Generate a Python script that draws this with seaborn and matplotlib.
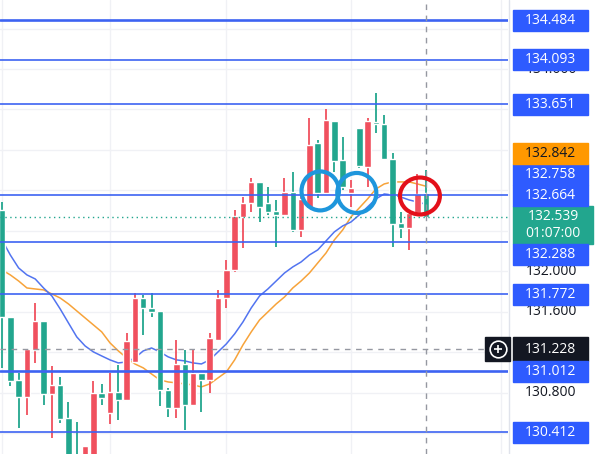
import matplotlib
matplotlib.use("Agg")
import matplotlib.pyplot as plt
from matplotlib.patches import Rectangle, Ellipse
import numpy as np
import pandas as pd
import seaborn as sns

# candles (red = rising, green = falling, as on the reference)
opens = [132.607, 131.550, 130.927, 130.759, 131.224, 131.510, 130.789, 130.878, 130.552, 130.150,
         130.000, 130.100, 130.799, 130.601, 130.809, 130.730, 131.105, 131.737, 131.639, 131.609,
         130.828, 130.650, 131.085, 130.680, 130.996, 130.927, 131.322, 131.737, 132.014, 132.538,
         132.676, 132.884, 132.676, 132.597, 132.558, 132.785, 132.409, 132.627, 133.269, 132.775,
         133.486, 133.101, 132.775, 133.417, 133.032, 133.477, 133.457, 133.111, 132.479, 132.429,
         132.577, 132.775]
highs = [132.686, 131.550, 130.996, 131.234, 131.688, 131.510, 131.066, 130.957, 130.710, 130.512,
         130.275, 130.917, 130.888, 130.996, 131.075, 131.392, 131.787, 131.767, 131.787, 131.609,
         130.850, 131.322, 131.224, 131.224, 130.996, 131.392, 131.817, 132.113, 132.607, 132.735,
         132.923, 132.884, 132.834, 132.706, 132.923, 132.982, 132.755, 133.516, 133.299, 133.605,
         133.486, 133.328, 132.903, 133.417, 133.516, 133.763, 133.546, 133.170, 132.587, 132.577,
         132.963, 133.002]
lows = [131.046, 130.868, 130.453, 130.581, 131.095, 130.680, 130.354, 130.502, 130.050, 129.900,
        129.950, 130.050, 130.680, 130.492, 130.532, 130.730, 131.105, 131.372, 131.550, 130.671,
        130.562, 130.552, 130.433, 130.680, 130.611, 130.799, 131.322, 131.639, 131.994, 132.232,
        132.587, 132.489, 132.558, 132.241, 132.558, 132.390, 132.340, 132.627, 132.726, 132.775,
        132.982, 132.805, 132.637, 133.022, 132.834, 133.368, 133.111, 132.241, 132.330, 132.212,
        132.577, 132.539]
closes = [131.550, 130.917, 130.759, 131.234, 131.510, 130.789, 130.878, 130.542, 130.100, 129.950,
          130.275, 130.799, 130.749, 130.809, 130.730, 131.313, 131.737, 131.639, 131.599, 130.828,
          130.650, 131.085, 130.680, 130.996, 130.927, 131.342, 131.737, 132.014, 132.548, 132.676,
          132.884, 132.637, 132.587, 132.558, 132.785, 132.409, 132.716, 133.249, 132.775, 133.496,
          133.091, 132.834, 132.824, 133.042, 133.486, 133.457, 133.111, 132.469, 132.429, 132.577,
          132.765, 132.539]

ma_fast = [132.311, 132.162, 132.034, 131.965, 131.925, 131.836, 131.757, 131.629, 131.490, 131.352,
           131.263, 131.204, 131.164, 131.125, 131.095, 131.105, 131.145, 131.214, 131.243, 131.204,
           131.155, 131.125, 131.115, 131.095, 131.085, 131.125, 131.204, 131.283, 131.382, 131.500,
           131.639, 131.757, 131.826, 131.905, 131.984, 132.044, 132.093, 132.162, 132.212, 132.301,
           132.390, 132.449, 132.488, 132.558, 132.637, 132.716, 132.765, 132.755, 132.735, 132.706,
           132.686, 132.664]
ma_slow = [132.014, 131.965, 131.905, 131.836, 131.826, 131.817, 131.777, 131.737, 131.678, 131.609,
           131.540, 131.471, 131.402, 131.293, 131.214, 131.145, 131.085, 131.046, 130.986, 130.927,
           130.907, 130.898, 130.888, 130.878, 130.858, 130.888, 130.947, 131.006, 131.125, 131.273,
           131.402, 131.520, 131.599, 131.678, 131.747, 131.836, 131.905, 131.984, 132.083, 132.182,
           132.311, 132.409, 132.538, 132.627, 132.716, 132.814, 132.864, 132.884, 132.884, 132.884,
           132.864, 132.842]

levels = [134.484, 134.093, 133.651, 132.758, 132.288, 131.772, 131.012, 130.412]
thick_levels = [134.484, 131.012]
price_ticks = [130.4, 130.8, 131.2, 131.6, 132.0, 132.4, 132.8, 133.2, 133.6, 134.0, 134.4]
time_grid = [0, 13, 27, 42, 60]
crosshair_price = 131.228
crosshair_bar = 51
countdown = "01:07:00"
# hand drawn circles: (bar, price, width in bars, height in price, colour)
circles = [(38.3, 132.795, 4.5, 0.385, "#1E96DC"),
           (42.7, 132.775, 4.7, 0.395, "#1E96DC"),
           (50.3, 132.745, 4.8, 0.365, "#E3101A")]

UP = "#F0505E"
DOWN = "#22A68E"
BLUE = "#2E5BFF"
LINE = "#3D63F2"


def main():
    sns.set_style("white")
    plt.rcParams['font.family'] = ['Open Sans', 'DejaVu Sans']

    y_lo, y_hi = 130.195, 134.682
    ppu = 454 / (y_hi - y_lo)

    fig = plt.figure(figsize=(6, 4.54), dpi=100)
    ax = fig.add_axes([0, 0, 508 / 600, 1])
    rax = fig.add_axes([508 / 600, 0, 92 / 600, 1])

    bars = np.arange(len(closes))
    o, h, l, c = map(np.array, (opens, highs, lows, closes))
    colors = np.where(c > o, UP, DOWN)

    for t in price_ticks:
        ax.axhline(t, color="#F0F1F5", lw=1, zorder=0)
    for b in time_grid:
        ax.axvline(b, color="#F0F1F5", lw=1, zorder=0)

    df = pd.DataFrame({'bar': bars, 'fast': ma_fast, 'slow': ma_slow})
    sns.lineplot(data=df, x='bar', y='slow', color="#F7A33A", lw=1.1, ax=ax, zorder=2)
    sns.lineplot(data=df, x='bar', y='fast', color="#5274F0", lw=1.1, ax=ax, zorder=2)

    ax.vlines(bars, l, h, colors=colors, lw=1.3, zorder=3)
    ax.bar(bars, np.maximum(np.abs(c - o), 0.01), bottom=np.minimum(o, c), width=0.78,
           color=colors, zorder=3)

    for lv in levels:
        ax.axhline(lv, color=LINE, lw=1.9 if lv in thick_levels else 1.2, zorder=4)
    ax.axhline(closes[-1], color=DOWN, lw=1, ls=(0, (1, 2.5)), zorder=4)
    ax.axhline(crosshair_price, color="#9598A1", lw=1, ls=(0, (4, 4)), zorder=4)
    ax.axvline(crosshair_bar, color="#9598A1", lw=1, ls=(0, (4, 4)), zorder=4)

    for bx, py, w, hgt, col in circles:
        ax.add_patch(Ellipse((bx, py), w, hgt, fill=False, edgecolor=col, lw=3, zorder=5))

    ax.set_xlim(-0.24, 60.9)
    ax.set_ylim(y_lo, y_hi)
    ax.set_xlabel('')
    ax.set_ylabel('')
    ax.set_xticks([])
    ax.set_yticks([])
    for s in ax.spines.values():
        s.set_visible(False)

    # price scale
    rax.set_xlim(0, 92)
    rax.set_ylim(y_lo, y_hi)
    rax.set_axis_off()
    rax.axvline(1, color="#E0E3EB", lw=1)

    centers = []

    def box(y, half, text, bg, fg, w=75):
        centers.append(y)
        rax.add_patch(Rectangle((5, y - half), w, 2 * half, color=bg, zorder=2, clip_on=False))
        rax.text(5 + w / 2, y, text, color=fg, fontsize=10, ha='center', va='center', zorder=3)

    cur = closes[-1]
    g_top = cur + 11 / ppu
    g_bot = cur - 27 / ppu
    centers.append(cur)
    centers.append(cur - 17 / ppu)
    rax.add_patch(Rectangle((5, g_bot), 80, g_top - g_bot, color=DOWN, zorder=2))
    rax.text(45, cur, f"{cur:.3f}", color="white", fontsize=10, ha='center', va='center', zorder=3)
    rax.text(45, cur - 17 / ppu, countdown, color="white", fontsize=10, ha='center', va='center', zorder=3)

    labels = [(lv, BLUE, "white", 10.5) for lv in levels]
    labels.append((ma_slow[-1], "#FF9800", "#131722", 10.5))
    labels.append((ma_fast[-1], BLUE, "white", 10.5))
    labels.append((crosshair_price, "#131722", "white", 12))

    limit = g_top
    for v, bg, fg, half in sorted([x for x in labels if x[0] > cur], key=lambda x: x[0]):
        y = max(v, limit + half / ppu)
        limit = y + half / ppu
        box(y, half / ppu, f"{v:.3f}", bg, fg)
    limit = g_bot
    for v, bg, fg, half in sorted([x for x in labels if x[0] < cur], key=lambda x: -x[0]):
        y = min(v, limit - half / ppu)
        limit = y - half / ppu
        box(y, half / ppu, f"{v:.3f}", bg, fg)

    # tick labels only where a price box does not cover them completely
    for t in price_ticks:
        if min(abs(t - y) for y in centers) * ppu < 9:
            continue
        rax.text(43, t, f"{t:.3f}", color="#131722", fontsize=10, ha='center', va='center', zorder=1)

    # crosshair "+" button
    rax.add_patch(Rectangle((-23, crosshair_price - 12 / ppu), 25, 24 / ppu, color="#131722",
                            zorder=4, clip_on=False))
    rax.plot(-10.5, crosshair_price, 'o', ms=12, mfc='none', mec='white', mew=1.2, clip_on=False, zorder=5)
    rax.plot(-10.5, crosshair_price, '+', ms=6, mec='white', mew=1.2, clip_on=False, zorder=5)

    fig.savefig("out.png", dpi=100)


if __name__ == '__main__':
    main()
